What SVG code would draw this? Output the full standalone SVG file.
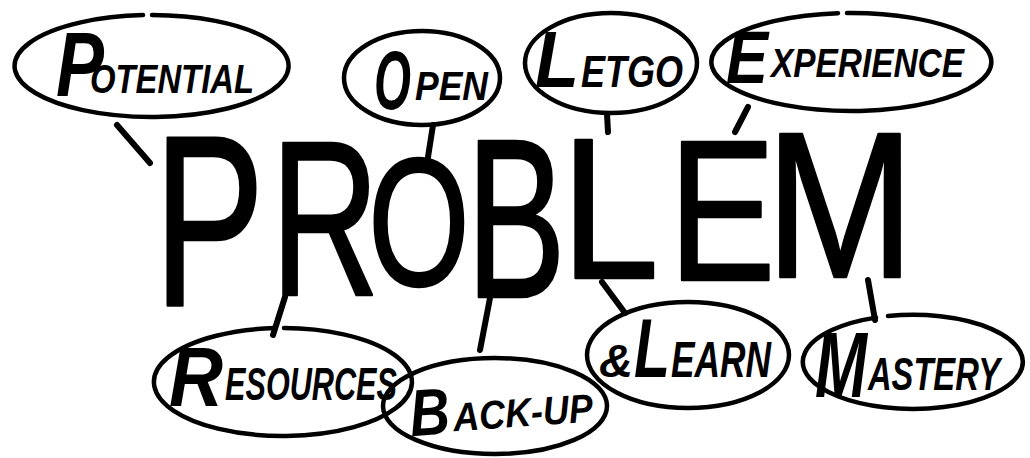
<svg xmlns="http://www.w3.org/2000/svg" width="1030" height="458" viewBox="0 0 1030 458">
<style>
.bub{fill:none;stroke:#000;stroke-width:4.5;stroke-linecap:round}
#connectors line{stroke:#000;stroke-width:6;stroke-linecap:round}
.lab{font-family:"Liberation Sans",Arial,sans-serif;font-weight:bold;font-style:italic;fill:#000}
.big{font-family:"Liberation Sans",Arial,sans-serif;fill:#000;stroke:#000;stroke-width:2.5;stroke-linejoin:round;text-anchor:middle}
</style>
<rect width="1030" height="458" fill="#fff"/>

<g id="connectors">
<line x1="117" y1="125" x2="150" y2="163"/>
<line x1="433" y1="125" x2="428" y2="157"/>
<line x1="607" y1="114" x2="608" y2="132"/>
<line x1="748" y1="107" x2="735" y2="132"/>
<line x1="285" y1="297" x2="273" y2="335"/>
<line x1="490" y1="298" x2="480" y2="350"/>
<line x1="602" y1="282" x2="625" y2="313"/>
<line x1="868" y1="280" x2="875" y2="320"/>
</g>

<g id="problem">
<text class="big" font-size="244" transform="translate(209,305) scale(0.68,1)">P</text>
<text class="big" font-size="221" transform="translate(325,295) scale(0.68,1)">R</text>
<text class="big" font-size="181" transform="translate(419,285) scale(0.72,1)">O</text>
<text class="big" font-size="226" transform="translate(516,297) scale(0.66,1)">B</text>
<text class="big" font-size="200" transform="translate(610,278) scale(0.88,1)">L</text>
<text class="big" font-size="200" transform="translate(722,280) scale(0.80,1)">E</text>
<text class="big" font-size="208" transform="translate(840,277) scale(0.86,1)">M</text>
</g>

<g id="potential">
<path class="bub" d="M152,15 A137 51 0 1 1 143,15.1"/>
<text class="lab" x="56" y="96" font-size="90" textLength="48" lengthAdjust="spacingAndGlyphs">P</text>
<text class="lab" x="90" y="93" font-size="40" textLength="164" lengthAdjust="spacingAndGlyphs">OTENTIAL</text>
</g>

<g id="open">
<ellipse class="bub" cx="422" cy="78" rx="78" ry="47"/>
<text class="lab" x="374" y="109" font-size="84" textLength="37" lengthAdjust="spacingAndGlyphs">O</text>
<text class="lab" x="415" y="100" font-size="40" textLength="73" lengthAdjust="spacingAndGlyphs">PEN</text>
</g>

<g id="letgo">
<ellipse class="bub" cx="611" cy="63" rx="86" ry="50"/>
<text class="lab" x="535" y="87" font-size="80" textLength="44" lengthAdjust="spacingAndGlyphs">L</text>
<text class="lab" x="581" y="87" font-size="44" textLength="102" lengthAdjust="spacingAndGlyphs">ETGO</text>
</g>

<g id="experience">
<path class="bub" d="M847,13 A140 49 0 1 1 838,13.2"/>
<text class="lab" x="726" y="83" font-size="74" textLength="42" lengthAdjust="spacingAndGlyphs">E</text>
<text class="lab" x="771" y="77" font-size="40" textLength="193" lengthAdjust="spacingAndGlyphs">XPERIENCE</text>
</g>

<g id="resources">
<path class="bub" d="M284,328 A129 54 0 1 1 275,328.1"/>
<text class="lab" x="169" y="406" font-size="84" textLength="54" lengthAdjust="spacingAndGlyphs">R</text>
<text class="lab" x="225" y="400" font-size="46" textLength="172" lengthAdjust="spacingAndGlyphs">ESOURCES</text>
</g>

<g id="backup">
<ellipse class="bub" cx="495" cy="406" rx="112" ry="48"/>
<g transform="rotate(-4,500,415)">
<text class="lab" x="410" y="430" font-size="66" textLength="40" lengthAdjust="spacingAndGlyphs">B</text>
<text class="lab" x="453" y="428" font-size="40" textLength="140" lengthAdjust="spacingAndGlyphs">ACK-UP</text>
</g>
</g>

<g id="learn">
<ellipse class="bub" cx="688" cy="355" rx="101" ry="53"/>
<text class="lab" x="599" y="377" font-size="46" textLength="34" lengthAdjust="spacingAndGlyphs">&amp;</text>
<text class="lab" x="634" y="377" font-size="84" textLength="36" lengthAdjust="spacingAndGlyphs">L</text>
<text class="lab" x="671" y="377" font-size="50" textLength="100" lengthAdjust="spacingAndGlyphs">EARN</text>
</g>

<g id="mastery">
<path class="bub" d="M888,316.1 A110 47 0 1 1 876,317.6"/>
<text class="lab" x="815" y="397" font-size="92" textLength="52" lengthAdjust="spacingAndGlyphs">M</text>
<text class="lab" x="868" y="390" font-size="46" textLength="132" lengthAdjust="spacingAndGlyphs">ASTERY</text>
</g>
</svg>
